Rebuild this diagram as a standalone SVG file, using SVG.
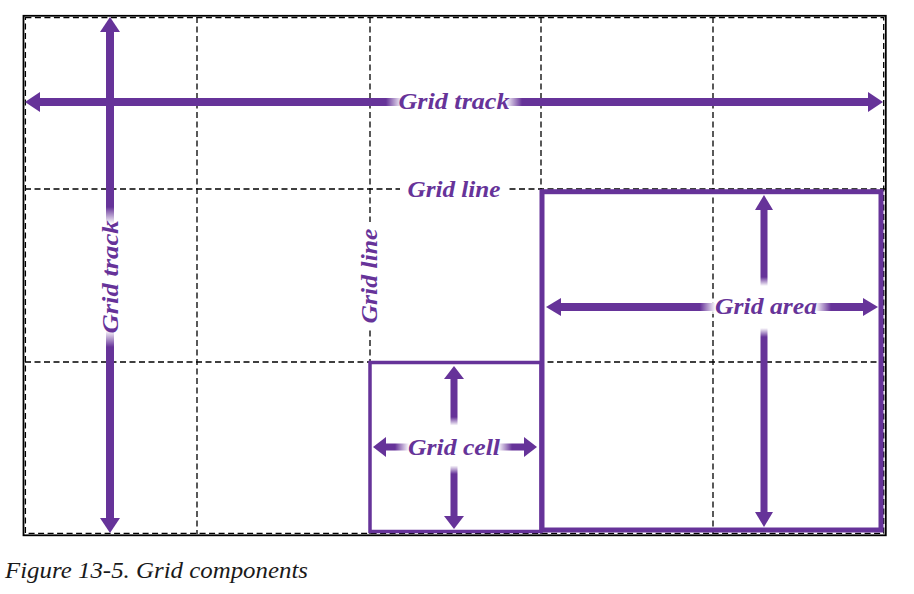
<svg xmlns="http://www.w3.org/2000/svg" width="914" height="594" viewBox="0 0 914 594">
  <style>
    .grid { stroke: #000; stroke-width: 1.3; stroke-dasharray: 6 3.5; fill: none; }
    .shaft { stroke: #663399; fill: none; }
    .head { fill: #663399; }
    .box { stroke: #663399; fill: none; }
    .lbl { font-family: "Liberation Serif", "DejaVu Serif", serif; font-style: italic; font-weight: bold; font-size: 24px; fill: #663399; text-anchor: middle; }
    .cap { font-family: "Liberation Serif", "DejaVu Serif", serif; font-style: italic; font-size: 24px; fill: #1a1a1a; }
  </style>
  <defs>
    <linearGradient id="fadeH" x1="0" y1="0" x2="1" y2="0">
      <stop offset="0" stop-color="#fff" stop-opacity="0"/>
      <stop offset="0.12" stop-color="#fff" stop-opacity="1"/>
      <stop offset="0.88" stop-color="#fff" stop-opacity="1"/>
      <stop offset="1" stop-color="#fff" stop-opacity="0"/>
    </linearGradient>
    <linearGradient id="fadeV" x1="0" y1="0" x2="0" y2="1">
      <stop offset="0" stop-color="#fff" stop-opacity="0"/>
      <stop offset="0.15" stop-color="#fff" stop-opacity="1"/>
      <stop offset="0.85" stop-color="#fff" stop-opacity="1"/>
      <stop offset="1" stop-color="#fff" stop-opacity="0"/>
    </linearGradient>
  </defs>
  <rect width="914" height="594" fill="#fff"/>

  <g id="grid">
    <rect x="23.5" y="15.8" width="862.3" height="519.5" fill="none" stroke="#000" stroke-width="1.8"/>
    <rect x="25.4" y="17.7" width="858.3" height="515.6" class="grid" stroke-width="1.8"/>
    <line class="grid" x1="197" y1="17" x2="197" y2="534"/>
    <line class="grid" x1="370" y1="17" x2="370" y2="534"/>
    <line class="grid" x1="541" y1="17" x2="541" y2="534"/>
    <line class="grid" x1="713" y1="17" x2="713" y2="534"/>
    <line class="grid" x1="25" y1="189" x2="885" y2="189"/>
    <line class="grid" x1="25" y1="362" x2="885" y2="362"/>
  </g>

  <g id="grid-cell-box">
    <rect class="box" x="370" y="362.5" width="171" height="169" stroke-width="3.5"/>
  </g>
  <g id="grid-area-box">
    <rect class="box" x="542" y="191.7" width="339" height="338.3" stroke-width="5"/>
  </g>

  <g id="connectors">
    <line class="shaft" stroke-width="8" x1="39" y1="102" x2="869" y2="102"/>
    <polygon class="head" points="25,102 40,92 40,112"/>
    <polygon class="head" points="883,102 868,92 868,112"/>
    <line class="shaft" stroke-width="8" x1="110" y1="31" x2="110" y2="519"/>
    <polygon class="head" points="110,17 100,32 120,32"/>
    <polygon class="head" points="110,533 100,518 120,518"/>
    <line class="shaft" stroke-width="8" x1="559" y1="307" x2="865" y2="307"/>
    <polygon class="head" points="546,307 561,298 561,316"/>
    <polygon class="head" points="878,307 863,298 863,316"/>
    <line class="shaft" stroke-width="7" x1="764" y1="209" x2="764" y2="513"/>
    <polygon class="head" points="764,195 755,210 773,210"/>
    <polygon class="head" points="764,527 755,512 773,512"/>
    <line class="shaft" stroke-width="7" x1="385" y1="447" x2="525" y2="447"/>
    <polygon class="head" points="373,447 386,437 386,457"/>
    <polygon class="head" points="537,447 524,437 524,457"/>
    <line class="shaft" stroke-width="7" x1="454" y1="378" x2="454" y2="517"/>
    <polygon class="head" points="454,366 444,379 464,379"/>
    <polygon class="head" points="454,529 444,516 464,516"/>
  </g>

  <g id="label-grid-track-h">
    <rect x="386" y="95" width="136" height="14" fill="url(#fadeH)"/>
    <text class="lbl" x="454" y="109" textLength="111" lengthAdjust="spacingAndGlyphs">Grid track</text>
  </g>
  <g id="label-grid-track-v" transform="translate(110,277) rotate(-90)">
    <rect x="-70" y="-7" width="140" height="14" fill="url(#fadeH)"/>
    <text class="lbl" x="0" y="8" textLength="113" lengthAdjust="spacingAndGlyphs">Grid track</text>
  </g>
  <g id="label-grid-line-h">
    <rect x="400" y="185" width="108" height="8" fill="#fff"/>
    <text class="lbl" x="454" y="197" textLength="93" lengthAdjust="spacingAndGlyphs">Grid line</text>
  </g>
  <g id="label-grid-line-v" transform="translate(370,276) rotate(-90)">
    <rect x="-54" y="-4" width="108" height="8" fill="#fff"/>
    <text class="lbl" x="0" y="7" textLength="95" lengthAdjust="spacingAndGlyphs">Grid line</text>
  </g>
  <g id="label-grid-area">
    <rect x="700" y="300" width="131" height="14" fill="url(#fadeH)"/>
    <rect x="757" y="277" width="14" height="60" fill="url(#fadeV)"/>
    <text class="lbl" x="766" y="314" textLength="102" lengthAdjust="spacingAndGlyphs">Grid area</text>
  </g>
  <g id="label-grid-cell">
    <rect x="395" y="440" width="117" height="14" fill="url(#fadeH)"/>
    <rect x="447" y="417" width="14" height="57" fill="url(#fadeV)"/>
    <text class="lbl" x="454" y="455" textLength="92" lengthAdjust="spacingAndGlyphs">Grid cell</text>
  </g>

  <text class="cap" x="5" y="578" textLength="303" lengthAdjust="spacingAndGlyphs">Figure 13-5. Grid components</text>
</svg>
